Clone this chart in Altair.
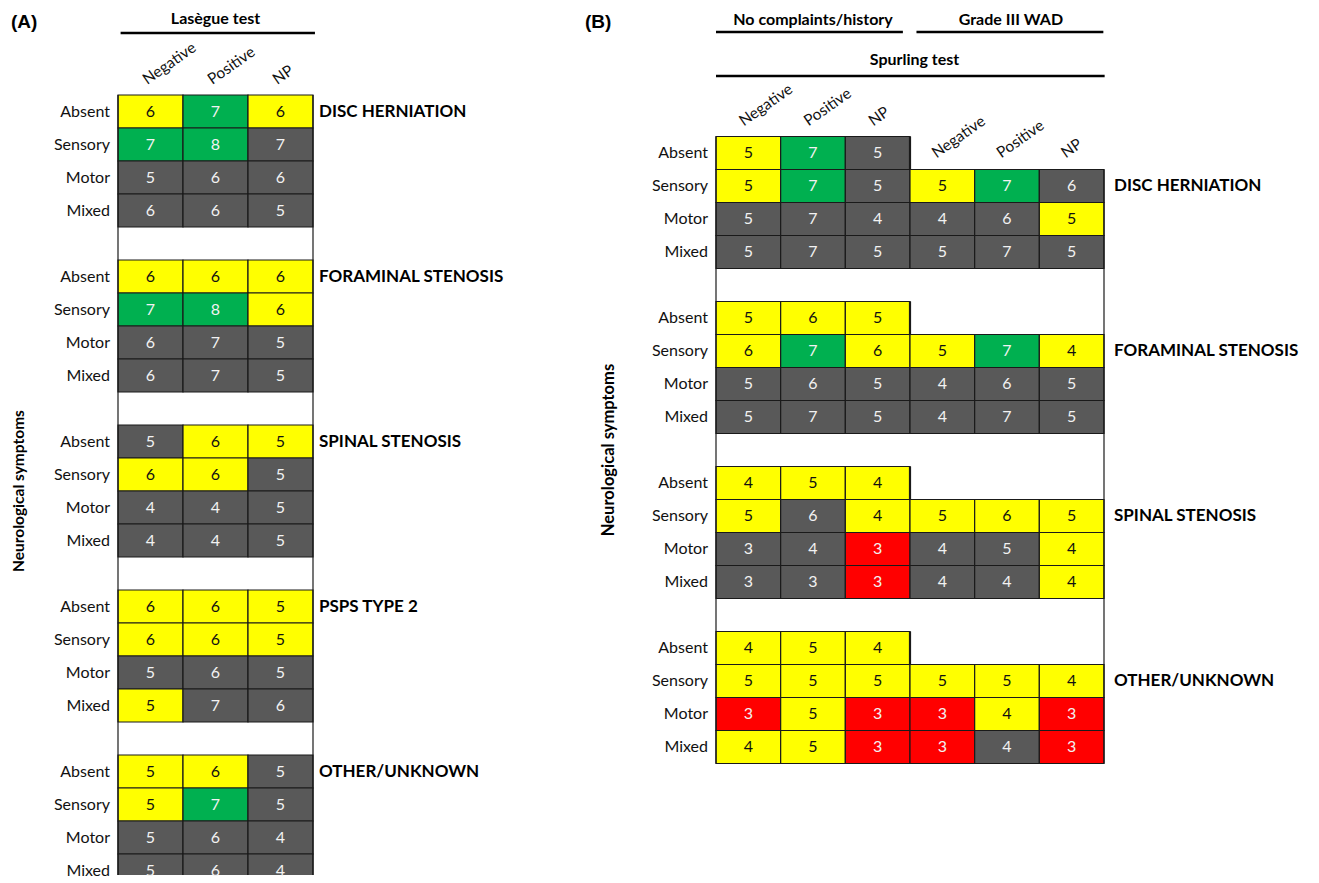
import altair as alt
import pandas as pd

FONT = "Lato"

ROWS = ["Absent", "Sensory", "Motor", "Mixed"]

# ---------------- Panel A: Lasègue test ----------------
A_COLUMNS = ["Negative", "Positive", "NP"]
A_GROUPS = ["DISC HERNIATION", "FORAMINAL STENOSIS", "SPINAL STENOSIS",
            "PSPS TYPE 2", "OTHER/UNKNOWN"]

# rows: Absent, Sensory, Motor, Mixed ; columns: Negative, Positive, NP
A_DISC_VALUES = [[6, 7, 6], [7, 8, 7], [5, 6, 6], [6, 6, 5]]
A_DISC_RATING = [["Y", "G", "Y"], ["G", "G", "D"], ["D", "D", "D"], ["D", "D", "D"]]
A_FORAM_VALUES = [[6, 6, 6], [7, 8, 6], [6, 7, 5], [6, 7, 5]]
A_FORAM_RATING = [["Y", "Y", "Y"], ["G", "G", "Y"], ["D", "D", "D"], ["D", "D", "D"]]
A_SPINAL_VALUES = [[5, 6, 5], [6, 6, 5], [4, 4, 5], [4, 4, 5]]
A_SPINAL_RATING = [["D", "Y", "Y"], ["Y", "Y", "D"], ["D", "D", "D"], ["D", "D", "D"]]
A_PSPS_VALUES = [[6, 6, 5], [6, 6, 5], [5, 6, 5], [5, 7, 6]]
A_PSPS_RATING = [["Y", "Y", "Y"], ["Y", "Y", "Y"], ["D", "D", "D"], ["Y", "D", "D"]]
A_OTHER_VALUES = [[5, 6, 5], [5, 7, 5], [5, 6, 4], [5, 6, 4]]
A_OTHER_RATING = [["Y", "Y", "D"], ["Y", "G", "D"], ["D", "D", "D"], ["D", "D", "D"]]

# ---------------- Panel B: Spurling test ----------------
B_SETTINGS = ["No complaints/history", "Grade III WAD"]
B_COLUMNS = ["Negative", "Positive", "NP", "Negative", "Positive", "NP"]
B_GROUPS = ["DISC HERNIATION", "FORAMINAL STENOSIS", "SPINAL STENOSIS", "OTHER/UNKNOWN"]
N = None
B_DISC_VALUES = [[5, 7, 5, N, N, N], [5, 7, 5, 5, 7, 6], [5, 7, 4, 4, 6, 5], [5, 7, 5, 5, 7, 5]]
B_DISC_RATING = [["Y", "G", "D", N, N, N], ["Y", "G", "D", "Y", "G", "D"],
                 ["D", "D", "D", "D", "D", "Y"], ["D", "D", "D", "D", "D", "D"]]
B_FORAM_VALUES = [[5, 6, 5, N, N, N], [6, 7, 6, 5, 7, 4], [5, 6, 5, 4, 6, 5], [5, 7, 5, 4, 7, 5]]
B_FORAM_RATING = [["Y", "Y", "Y", N, N, N], ["Y", "G", "Y", "Y", "G", "Y"],
                  ["D", "D", "D", "D", "D", "D"], ["D", "D", "D", "D", "D", "D"]]
B_SPINAL_VALUES = [[4, 5, 4, N, N, N], [5, 6, 4, 5, 6, 5], [3, 4, 3, 4, 5, 4], [3, 3, 3, 4, 4, 4]]
B_SPINAL_RATING = [["Y", "Y", "Y", N, N, N], ["Y", "D", "Y", "Y", "Y", "Y"],
                   ["D", "D", "R", "D", "D", "Y"], ["D", "D", "R", "D", "D", "Y"]]
B_OTHER_VALUES = [[4, 5, 4, N, N, N], [5, 5, 5, 5, 5, 4], [3, 5, 3, 3, 4, 3], [4, 5, 3, 3, 4, 3]]
B_OTHER_RATING = [["Y", "Y", "Y", N, N, N], ["Y", "Y", "Y", "Y", "Y", "Y"],
                  ["R", "Y", "R", "R", "Y", "R"], ["Y", "Y", "R", "R", "D", "R"]]

FILL = {"G": "#00B050", "Y": "#FFFF00", "D": "#595959", "R": "#FF0000"}
INK = {"G": "#f2f2f2", "Y": "#111111", "D": "#f2f2f2", "R": "#f2f2f2"}

STEP = 5  # 4 symptom rows + 1 spacer row per diagnosis


def build_cells(values_list, rating_list):
    recs = []
    for gi, (vals, rats) in enumerate(zip(values_list, rating_list)):
        for ri in range(len(ROWS)):
            for ci, v in enumerate(vals[ri]):
                if v is None:
                    continue
                r = gi * STEP + ri
                recs.append(dict(x=ci, x2=ci + 1, y=r, y2=r + 1, xm=ci + 0.5, ym=r + 0.5,
                                 value=str(v), fill=FILL[rats[ri][ci]], ink=INK[rats[ri][ci]]))
    return pd.DataFrame(recs)


def build_row_labels(n_groups):
    recs = []
    for gi in range(n_groups):
        for ri, lab in enumerate(ROWS):
            recs.append(dict(y=gi * STEP + ri + 0.5, label=lab, x=0))
    return pd.DataFrame(recs)


def sx(dom):
    return alt.Scale(domain=dom, nice=False, zero=False)


def sy(dom):
    return alt.Scale(domain=dom, nice=False, zero=False, reverse=True)


def cell_layers(cells, XS, YS):
    rects = alt.Chart(cells).mark_rect(stroke="#1a1a1a", strokeWidth=1.2, clip=True).encode(
        x=alt.X("x:Q", scale=XS, axis=None), x2="x2:Q",
        y=alt.Y("y:Q", scale=YS, axis=None), y2="y2:Q",
        fill=alt.Fill("fill:N", scale=None))
    nums = alt.Chart(cells).mark_text(font=FONT, fontSize=16, baseline="middle").encode(
        x=alt.X("xm:Q", scale=XS, axis=None), y=alt.Y("ym:Q", scale=YS, axis=None),
        text="value:N", fill=alt.Fill("ink:N", scale=None))
    return [rects, nums]


def row_label_layer(df, XS, YS):
    return alt.Chart(df).mark_text(font=FONT, fontSize=16, align="right", baseline="middle",
                                   dx=-8, color="#111").encode(
        x=alt.X("x:Q", scale=XS, axis=None), y=alt.Y("y:Q", scale=YS, axis=None), text="label:N")


def group_label_layer(df, XS, YS, dx):
    return alt.Chart(df).mark_text(font=FONT, fontSize=17, fontWeight="bold", align="left",
                                   baseline="middle", dx=dx, color="#000").encode(
        x=alt.X("x:Q", scale=XS, axis=None), y=alt.Y("y:Q", scale=YS, axis=None), text="label:N")


def col_header_layer(df, XS, YS):
    return alt.Chart(df).mark_text(font=FONT, fontSize=15.5, align="left", baseline="alphabetic",
                                   angle=325, color="#111").encode(
        x=alt.X("x:Q", scale=XS, axis=None), y=alt.Y("y:Q", scale=YS, axis=None), text="label:N")


def border_layer(df, XS, YS, width=1.2):
    return alt.Chart(df).mark_rule(color="#1a1a1a", strokeWidth=width, clip=True).encode(
        x=alt.X("x:Q", scale=XS, axis=None), y=alt.Y("y:Q", scale=YS, axis=None), y2="y2:Q")


def header_text(label, xc, y_px, XS, size=16):
    return alt.Chart(pd.DataFrame({"label": [label], "x": [xc]})).mark_text(
        font=FONT, fontSize=size, fontWeight="bold", align="center", baseline="alphabetic",
        color="#000").encode(x=alt.X("x:Q", scale=XS, axis=None), y=alt.value(y_px), text="label:N")


def header_rule(x0, x1, y_px, XS):
    return alt.Chart(pd.DataFrame({"x": [x0], "x2": [x1]})).mark_rule(
        color="#000", strokeWidth=2.5).encode(
        x=alt.X("x:Q", scale=XS, axis=None), x2="x2:Q", y=alt.value(y_px))


def panel_letter(letter, x_px):
    return alt.Chart(pd.DataFrame({"label": [letter]})).mark_text(
        font="Liberation Sans", fontSize=19, fontWeight="bold", align="left",
        baseline="alphabetic", color="#000").encode(
        x=alt.value(x_px), y=alt.value(20), text="label:N")


def axis_title(yc, x_px, YS, size=16):
    return alt.Chart(pd.DataFrame({"label": ["Neurological symptoms"], "y": [yc]})).mark_text(
        font=FONT, fontSize=size, fontWeight="bold", angle=270, align="center",
        baseline="middle", color="#000").encode(
        x=alt.value(x_px), y=alt.Y("y:Q", scale=YS, axis=None), text="label:N")


H = 867
# ---- panel A geometry ----
WA = 570
A_UX, A_UY = 65.0, 33.0
A_X0 = -110 / A_UX
A_Y0 = -87 / A_UY
XA = sx([A_X0, A_X0 + WA / A_UX])
YA = sy([A_Y0, A_Y0 + H / A_UY])

a_cells = build_cells(
    [A_DISC_VALUES, A_FORAM_VALUES, A_SPINAL_VALUES, A_PSPS_VALUES, A_OTHER_VALUES],
    [A_DISC_RATING, A_FORAM_RATING, A_SPINAL_RATING, A_PSPS_RATING, A_OTHER_RATING])
a_nrows = len(A_GROUPS) * STEP - 1
a_rowlab = build_row_labels(len(A_GROUPS))
a_grouplab = pd.DataFrame({"label": A_GROUPS,
                           "y": [gi * STEP + 0.5 for gi in range(len(A_GROUPS))],
                           "x": [len(A_COLUMNS)] * len(A_GROUPS)})
a_heads = pd.DataFrame({"label": A_COLUMNS,
                        "x": [ci + 0.45 for ci in range(len(A_COLUMNS))],
                        "y": [-0.30] * len(A_COLUMNS)})
a_borders = pd.DataFrame({"x": [0, len(A_COLUMNS)], "y": [0, 0], "y2": [a_nrows, a_nrows]})

panel_a = alt.layer(
    *cell_layers(a_cells, XA, YA),
    border_layer(a_borders, XA, YA),
    row_label_layer(a_rowlab, XA, YA),
    group_label_layer(a_grouplab, XA, YA, 6),
    col_header_layer(a_heads, XA, YA),
    header_text("Lasègue test", len(A_COLUMNS) / 2, 16, XA),
    header_rule(0.04, 3.03, 25, XA),
    panel_letter("(A)", 3),
    axis_title(a_nrows / 2, 11, YA, 15.5),
).properties(width=WA, height=H)

# ---- panel B geometry ----
WB = 725
B_UX, B_UY = 388 / 6, 33.0
B_X0 = -138 / B_UX
B_Y0 = -128.5 / B_UY
XB = sx([B_X0, B_X0 + WB / B_UX])
YB = sy([B_Y0, B_Y0 + H / B_UY])

b_cells = build_cells(
    [B_DISC_VALUES, B_FORAM_VALUES, B_SPINAL_VALUES, B_OTHER_VALUES],
    [B_DISC_RATING, B_FORAM_RATING, B_SPINAL_RATING, B_OTHER_RATING])
b_nrows = len(B_GROUPS) * STEP - 1
b_rowlab = build_row_labels(len(B_GROUPS))
b_grouplab = pd.DataFrame({"label": B_GROUPS,
                           "y": [gi * STEP + 1.5 for gi in range(len(B_GROUPS))],
                           "x": [len(B_COLUMNS)] * len(B_GROUPS)})
b_heads = pd.DataFrame({"label": B_COLUMNS,
                        "x": [ci + (0.43 if ci < 3 else 0.41) for ci in range(len(B_COLUMNS))],
                        "y": [-0.30 if ci < 3 else 1 - 0.33 for ci in range(len(B_COLUMNS))]})
b_borders = pd.DataFrame({"x": [0, len(B_COLUMNS)], "y": [0, 1], "y2": [b_nrows, b_nrows]})
b_split = pd.DataFrame({"x": [3] * len(B_GROUPS),
                        "y": [gi * STEP for gi in range(len(B_GROUPS))],
                        "y2": [gi * STEP + 1 for gi in range(len(B_GROUPS))]})

panel_b = alt.layer(
    *cell_layers(b_cells, XB, YB),
    border_layer(b_borders, XB, YB),
    border_layer(b_split, XB, YB, width=2.2),
    row_label_layer(b_rowlab, XB, YB),
    group_label_layer(b_grouplab, XB, YB, 10),
    col_header_layer(b_heads, XB, YB),
    header_text(B_SETTINGS[0], 1.5, 17, XB),
    header_rule(0.0, 2.89, 24, XB),
    header_text(B_SETTINGS[1], 4.56, 17, XB),
    header_rule(3.10, 5.99, 24, XB),
    header_text("Spurling test", 3.07, 57, XB),
    header_rule(0.0, 6.01, 68, XB),
    panel_letter("(B)", 7),
    axis_title(b_nrows / 2, 31, YB, 16.5),
).properties(width=WB, height=H)

chart = alt.hconcat(panel_a, panel_b, spacing=0, padding=0).configure_view(stroke=None)

chart.save("out.html", embed_options={"renderer": "svg", "actions": False})
